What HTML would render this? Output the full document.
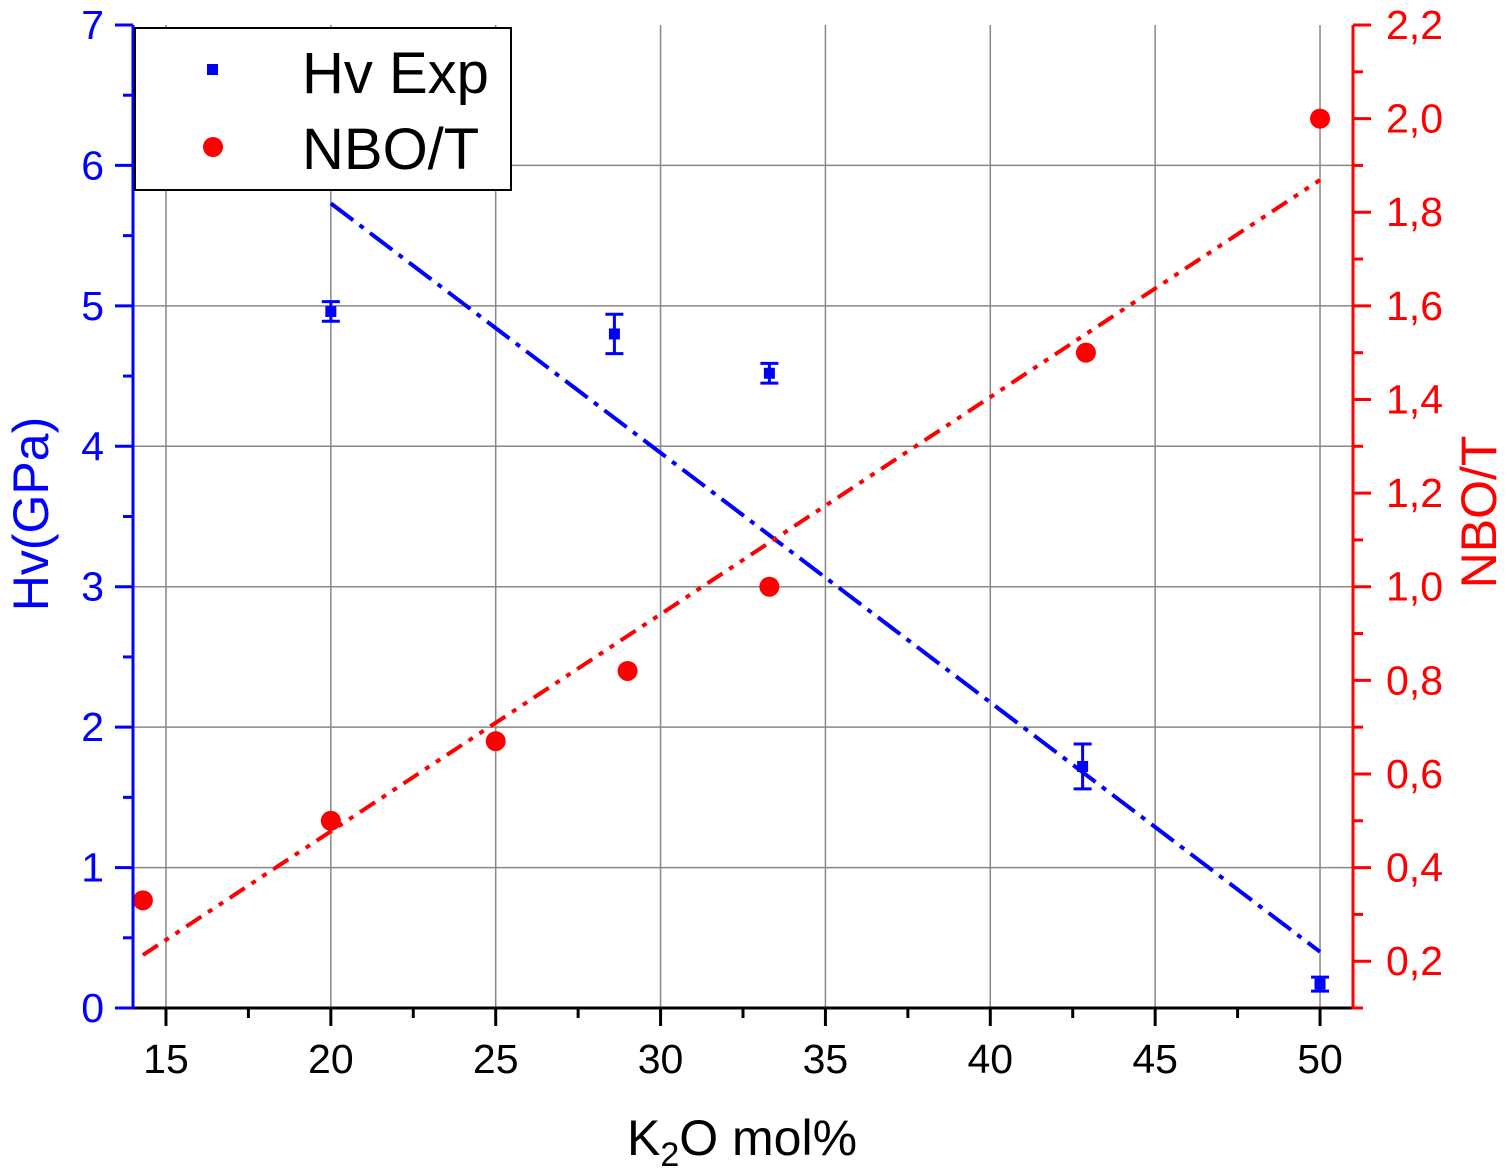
<!DOCTYPE html>
<html><head><meta charset="utf-8">
<style>
html,body{margin:0;padding:0;background:#fff;}
svg{display:block;font-family:"Liberation Sans",Arial,sans-serif;}
</style></head>
<body>
<svg id="chart" width="1508" height="1174" viewBox="0 0 1508 1174">
<g id="grid"></g>
<g id="fits"></g>
<g id="marks"></g>
<g id="axes"></g>
<g>
  <rect x="135" y="28" width="376" height="162" fill="#fff" stroke="#000" stroke-width="2"/>
  <rect x="207" y="64" width="11" height="11" fill="#0000ff"/>
  <text x="302" y="93" font-size="58" fill="#000">Hv Exp</text>
  <circle cx="213" cy="147" r="10" fill="#ff0000"/>
  <text x="302" y="169" font-size="58" fill="#000">NBO/T</text>
</g>
<text x="742" y="1155" font-size="50" text-anchor="middle" fill="#000">K<tspan font-size="34" dy="11">2</tspan><tspan dy="-11">O mol%</tspan></text>
<text transform="translate(48,514) rotate(-90)" font-size="50" text-anchor="middle" fill="#0000ff">Hv(GPa)</text>
<text transform="translate(1496,512) rotate(-90)" font-size="50" text-anchor="middle" fill="#ff0000">NBO/T</text>
</svg>
<script>
const xTicks=[15,20,25,30,35,40,45,50];
const hvTicks=[0,1,2,3,4,5,6,7];
const nboTicks=[0.2,0.4,0.6,0.8,1.0,1.2,1.4,1.6,1.8,2.0,2.2];
const hvX=[20,28.6,33.3,42.8,50];
const hvY=[4.96,4.80,4.52,1.72,0.17];
const hvErr=[0.07,0.14,0.07,0.16,0.05];
const nboX=[14.3,20,25,29,33.3,42.9,50];
const nboY=[0.33,0.5,0.67,0.82,1.0,1.5,2.0];
const hvFitX=[20,50];
const hvFitY=[5.73,0.40];
const nboFitX=[14.3,50];
const nboFitY=[0.213,1.869];

const L=133,R=1353,T=25,B=1008;
const X=v=>L+(v-14)*(R-L)/37;
const YL=v=>B-v*(B-T)/7;
const YR=v=>B-(v-0.1)*(B-T)/2.1;
const NS="http://www.w3.org/2000/svg";
function mk(p,tag,attrs){const e=document.createElementNS(NS,tag);for(const k in attrs)e.setAttribute(k,attrs[k]);p.appendChild(e);return e;}
const grid=document.getElementById('grid'),fits=document.getElementById('fits'),marks=document.getElementById('marks'),axes=document.getElementById('axes');

xTicks.forEach(v=>{const e=mk(grid,'line',{x1:X(v),x2:X(v),y1:T,y2:B,stroke:'#888','stroke-width':1.5});

});
hvTicks.slice(1,7).forEach(v=>{const e=mk(grid,'line',{x1:L,x2:R,y1:YL(v),y2:YL(v),stroke:'#888','stroke-width':1.5});

});

let f1=mk(fits,'line',{x1:X(hvFitX[0]),y1:YL(hvFitY[0]),x2:X(hvFitX[1]),y2:YL(hvFitY[1]),stroke:'#0000ff','stroke-width':4,'stroke-dasharray':'28 8 5 8'});


let f2=mk(fits,'line',{x1:X(nboFitX[0]),y1:YR(nboFitY[0]),x2:X(nboFitX[1]),y2:YR(nboFitY[1]),stroke:'#ff0000','stroke-width':4,'stroke-dasharray':'18 8 5 8 5 8'});



hvX.forEach((x,i)=>{const g=mk(marks,'g',{});


const cx=X(x),y1=YL(hvY[i]+hvErr[i]),y2=YL(hvY[i]-hvErr[i]);
mk(g,'line',{x1:cx,x2:cx,y1:y1,y2:y2,stroke:'#0000ff','stroke-width':3});
mk(g,'line',{x1:cx-9,x2:cx+9,y1:y1,y2:y1,stroke:'#0000ff','stroke-width':3});
mk(g,'line',{x1:cx-9,x2:cx+9,y1:y2,y2:y2,stroke:'#0000ff','stroke-width':3});
mk(g,'rect',{x:cx-5.5,y:YL(hvY[i])-5.5,width:11,height:11,fill:'#0000ff'});});
nboX.forEach((x,i)=>{const c=mk(marks,'circle',{cx:X(x),cy:YR(nboY[i]),r:10,fill:'#ff0000'});

});

mk(axes,'line',{x1:L,x2:R,y1:B,y2:B,stroke:'#000','stroke-width':3});
mk(axes,'line',{x1:L,x2:L,y1:T,y2:B+1.5,stroke:'#0000ff','stroke-width':3});
mk(axes,'line',{x1:R,x2:R,y1:T,y2:B+1.5,stroke:'#ff0000','stroke-width':3});
for(let v=15;v<=50;v+=2.5){const maj=v%5===0;mk(axes,'line',{x1:X(v),x2:X(v),y1:B,y2:B+(maj?18:10),stroke:'#000','stroke-width':3});}
xTicks.forEach(v=>{const t=mk(axes,'text',{x:X(v),y:1073,'font-size':41,'text-anchor':'middle',fill:'#000'});t.textContent=v;

});
for(let v=0;v<=7;v+=0.5){const maj=v%1===0;mk(axes,'line',{x1:L,x2:L-(maj?18:10),y1:YL(v),y2:YL(v),stroke:'#0000ff','stroke-width':3});}
hvTicks.forEach(v=>{const t=mk(axes,'text',{x:104,y:YL(v)+14,'font-size':41,'text-anchor':'end',fill:'#0000ff'});t.textContent=v;

});
for(let k=1;k<=22;k++){const v=k/10;const maj=k%2===0;mk(axes,'line',{x1:R,x2:R+(maj?18:10),y1:YR(v),y2:YR(v),stroke:'#ff0000','stroke-width':3});}
nboTicks.forEach(v=>{const t=mk(axes,'text',{x:1386,y:YR(v)+14,'font-size':41,fill:'#ff0000'});t.textContent=v.toFixed(1).replace('.',',');

});
</script>
</body></html>
